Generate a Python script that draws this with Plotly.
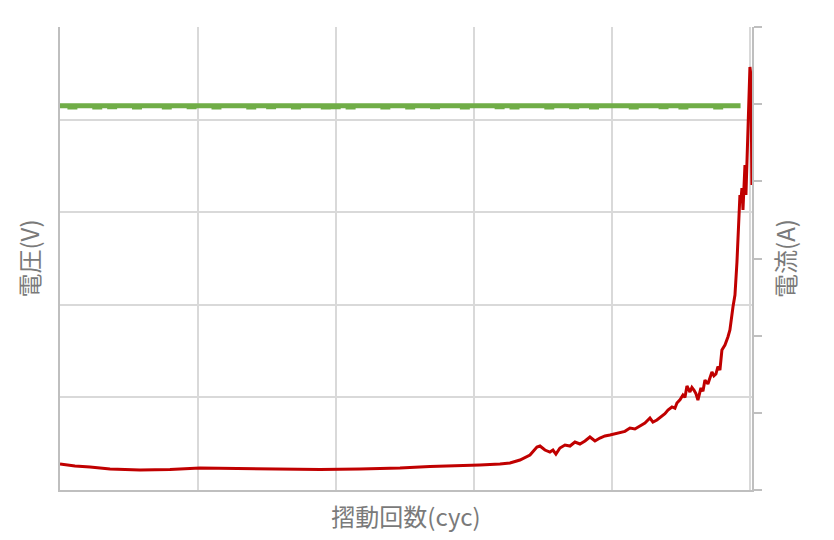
import plotly.graph_objects as go

# 摺動回数 (cyc) for the current series
cycles_i = [0, 217, 435, 725, 1159, 1594, 2029, 2609, 3188, 3768, 4348, 4928, 5362, 5652,
            6087, 6377, 6522, 6667, 6812, 6913, 6957, 7029, 7101, 7145, 7188, 7246, 7319,
            7392, 7464, 7536, 7609, 7681, 7754, 7826, 7899, 7971, 8043, 8116, 8188, 8261,
            8333, 8406, 8478, 8551, 8594, 8652, 8725, 8768, 8812, 8870, 8913, 8942, 8986,
            9029, 9058, 9087, 9130, 9159, 9188, 9217, 9246, 9290, 9319, 9348, 9391, 9420,
            9449, 9478, 9507, 9536, 9565, 9594, 9638, 9681, 9710, 9754, 9783, 9812, 9841,
            9855, 9870, 9884, 9899, 9913, 9928, 9942, 9957, 9971, 9986, 10000, 10014, 10029]
# 電流 (A)
current = [0.337, 0.311, 0.298, 0.272, 0.259, 0.266, 0.285, 0.279, 0.272, 0.266, 0.272,
           0.285, 0.305, 0.311, 0.324, 0.337, 0.350, 0.389, 0.454, 0.557, 0.570, 0.518,
           0.492, 0.518, 0.466, 0.544, 0.583, 0.570, 0.622, 0.596, 0.635, 0.687, 0.635,
           0.674, 0.700, 0.713, 0.726, 0.739, 0.760, 0.803, 0.790, 0.829, 0.868, 0.933,
           0.881, 0.907, 0.959, 0.990, 1.037, 1.076, 1.060, 1.127, 1.170, 1.231, 1.200,
           1.348, 1.270, 1.330, 1.296, 1.250, 1.166, 1.322, 1.280, 1.425, 1.374, 1.450,
           1.529, 1.480, 1.503, 1.600, 1.555, 1.814, 1.879, 1.983, 2.073, 2.371, 2.527,
           2.955, 3.564, 3.823, 3.758, 3.913, 3.628, 3.952, 4.211, 3.823, 4.276, 4.406,
           4.924, 5.481, 5.378, 3.952]

# 摺動回数 (cyc) for the voltage series
cycles_v = [0, 72, 144, 216, 288, 360, 432, 504, 576, 648, 720, 792, 864, 936, 1008,
            1080, 1152, 1224, 1296, 1368, 1440, 1512, 1584, 1656, 1728, 1800, 1872, 1944,
            2016, 2088, 2160, 2232, 2304, 2376, 2448, 2520, 2592, 2664, 2736, 2808, 2880,
            2952, 3024, 3096, 3168, 3240, 3312, 3384, 3456, 3528, 3600, 3672, 3744, 3816,
            3888, 3960, 4032, 4104, 4176, 4248, 4320, 4392, 4464, 4536, 4608, 4680, 4752,
            4824, 4896, 4968, 5040, 5112, 5184, 5256, 5328, 5400, 5472, 5544, 5616, 5688,
            5760, 5832, 5904, 5976, 6048, 6120, 6192, 6264, 6336, 6408, 6480, 6552, 6624,
            6696, 6768, 6840, 6912, 6984, 7056, 7128, 7200, 7272, 7344, 7416, 7488, 7560,
            7632, 7704, 7776, 7848, 7920, 7992, 8064, 8136, 8208, 8280, 8352, 8424, 8496,
            8568, 8640, 8712, 8784, 8856, 8928, 9000, 9072, 9144, 9216, 9288, 9360, 9432,
            9504, 9576, 9648, 9720, 9792, 9864, 9936, 10029]
# 電圧 (V)
voltage = [4.15, 4.15, 4.135, 4.15, 4.15, 4.15, 4.15, 4.135, 4.15, 4.15, 4.14, 4.15, 4.15,
           4.15, 4.15, 4.135, 4.15, 4.15, 4.15, 4.15, 4.15, 4.135, 4.15, 4.15, 4.15, 4.15,
           4.14, 4.15, 4.15, 4.15, 4.15, 4.135, 4.15, 4.15, 4.15, 4.15, 4.15, 4.15, 4.135,
           4.15, 4.15, 4.15, 4.14, 4.15, 4.15, 4.15, 4.15, 4.135, 4.15, 4.15, 4.15, 4.15,
           4.15, 4.135, 4.15, 4.14, 4.15, 4.15, 4.135, 4.15, 4.15, 4.15, 4.15, 4.15, 4.15,
           4.135, 4.15, 4.15, 4.15, 4.15, 4.135, 4.15, 4.15, 4.15, 4.15, 4.14, 4.15, 4.15,
           4.15, 4.15, 4.15, 4.135, 4.15, 4.15, 4.15, 4.15, 4.15, 4.15, 4.14, 4.15, 4.15,
           4.135, 4.15, 4.15, 4.15, 4.15, 4.15, 4.15, 4.135, 4.15, 4.15, 4.15, 4.15, 4.14,
           4.15, 4.15, 4.15, 4.135, 4.15, 4.15, 4.15, 4.15, 4.15, 4.15, 4.15, 4.135, 4.15,
           4.15, 4.15, 4.15, 4.15, 4.14, 4.15, 4.15, 4.15, 4.135, 4.15, 4.15, 4.15, 4.15,
           4.15, 4.15, 4.135, 4.15, 4.15, 4.15, 4.15, 4.15]

title_font = dict(family="Noto Sans CJK JP", size=24, color="#7a7a7a")

fig = go.Figure()
fig.add_trace(go.Scatter(x=cycles_v, y=voltage, mode="lines", name="電圧",
                         line=dict(color="#70AD47", width=5, shape="hv"), yaxis="y"))
fig.add_trace(go.Scatter(x=cycles_i, y=current, mode="lines", name="電流",
                         line=dict(color="#C00000", width=3), yaxis="y2"))

fig.update_layout(
    width=826, height=532,
    margin=dict(l=52, r=82, t=19, b=50, autoexpand=False),
    paper_bgcolor="white", plot_bgcolor="white",
    showlegend=False,
    xaxis=dict(range=[0, 10030], dtick=2000, showticklabels=False, ticks="",
               showgrid=True, gridcolor="#D9D9D9", gridwidth=1.5, automargin=False,
               showline=True, linecolor="#BFBFBF", linewidth=2, zeroline=False,
               title=dict(text="摺動回数(cyc)", font=title_font, standoff=18)),
    yaxis=dict(range=[0, 5], dtick=1, showticklabels=False, ticks="", automargin=False,
               showgrid=True, gridcolor="#D9D9D9", gridwidth=1.5,
               showline=True, linecolor="#BFBFBF", linewidth=2, zeroline=False,
               title=dict(text="電圧(V)", font=title_font, standoff=12)),
    yaxis2=dict(range=[0, 6], dtick=1, overlaying="y", side="right", automargin=False,
                showticklabels=False, ticks="outside", ticklen=8, tickwidth=1.5,
                tickcolor="#BFBFBF", showgrid=False, zeroline=False,
                showline=True, linecolor="#BFBFBF", linewidth=2,
                title=dict(text="電流(A)", font=title_font, standoff=17)),
)

fig.write_html("out.html")
